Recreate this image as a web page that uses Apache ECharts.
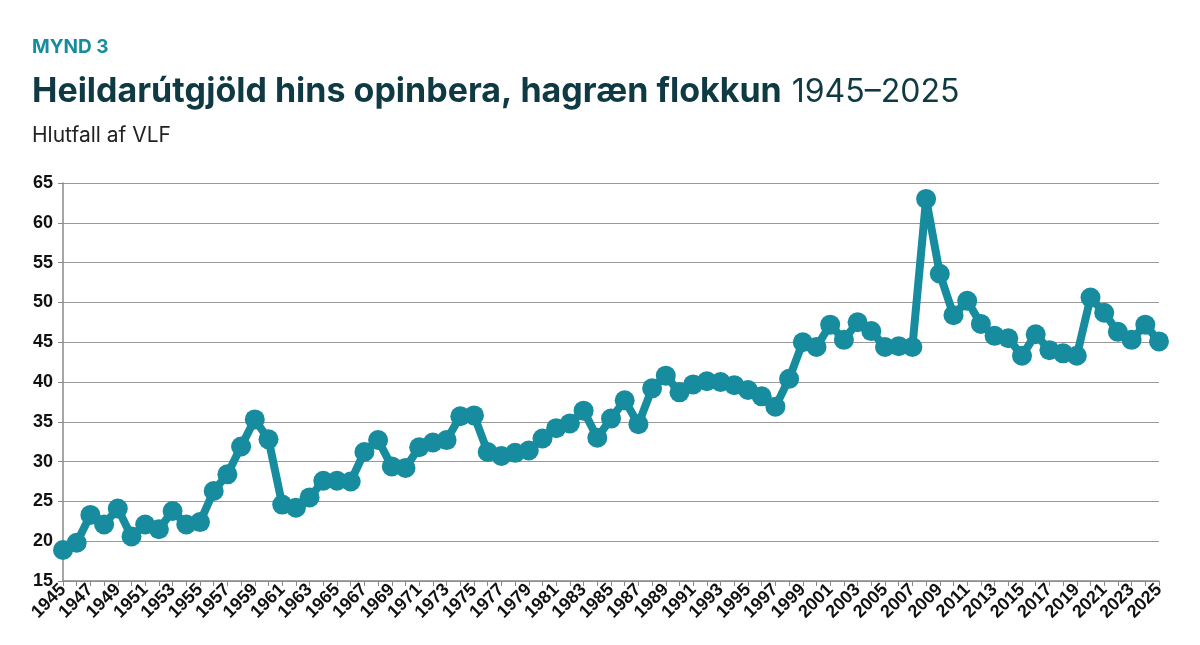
<!DOCTYPE html>
<html>
<head>
<meta charset="utf-8">
<script src="https://cdn.jsdelivr.net/npm/echarts@6/dist/echarts.min.js"></script>
<style>
  html, body { margin: 0; padding: 0; background: #fff; }
  #chart { width: 1200px; height: 645px; }
</style>
</head>
<body>
<div id="chart"></div>
<script>
const years = [];
for (let y = 1945; y <= 2025; y++) years.push(String(y));

const spending = [
  18.9, 19.8, 23.3, 22.1, 24.1, 20.6, 22.1, 21.5, 23.8, 22.1,
  22.4, 26.3, 28.4, 31.9, 35.3, 32.8, 24.6, 24.2, 25.5, 27.6,
  27.6, 27.5, 31.2, 32.7, 29.4, 29.2, 31.8, 32.4, 32.7, 35.7,
  35.8, 31.2, 30.7, 31.1, 31.4, 32.9, 34.2, 34.8, 36.4, 33.0,
  35.4, 37.7, 34.7, 39.2, 40.8, 38.7, 39.7, 40.1, 40.0, 39.6,
  39.0, 38.2, 36.9, 40.4, 45.0, 44.4, 47.2, 45.3, 47.5, 46.4,
  44.4, 44.5, 44.4, 63.0, 53.6, 48.4, 50.2, 47.3, 45.8, 45.5,
  43.3, 46.0, 44.0, 43.6, 43.3, 50.6, 48.7, 46.3, 45.3, 47.2,
  45.1
];

const teal = "#168c9e";
const chart = echarts.init(document.getElementById("chart"));
chart.setOption({
  animation: false,
  title: [
    {
      text: "MYND 3",
      left: 27,
      top: 33,
      textStyle: { color: teal, fontFamily: "Inter", fontWeight: "bold", fontSize: 19 },
    },
    {
      text: "{b|Heildarútgjöld hins opinbera, hagræn flokkun}  {n|1945–2025}",
      left: 27,
      top: 70,
      textStyle: {
        rich: {
          b: { color: "#0f3a44", fontFamily: "Inter", fontWeight: "bold", fontSize: 34 },
          n: { color: "#0f3a44", fontFamily: "Inter", fontWeight: "normal", fontSize: 32 },
        },
      },
    },
    {
      text: "Hlutfall af VLF",
      left: 27,
      top: 120,
      textStyle: { color: "#222", fontFamily: "Inter", fontWeight: "normal", fontSize: 21 },
    },
  ],
  grid: { left: 63, right: 41, top: 183, bottom: 64 },
  xAxis: {
    type: "category",
    data: years,
    boundaryGap: false,
    axisLine: { lineStyle: { color: "#888", width: 1.5 } },
    axisTick: { show: true, interval: 0, length: 5, lineStyle: { color: "#888" } },
    axisLabel: {
      interval: 1,
      rotate: 45,
      margin: 6,
      color: "#111",
      fontFamily: "Liberation Sans",
      fontWeight: "bold",
      fontSize: 18,
    },
  },
  yAxis: {
    type: "value",
    min: 15,
    max: 65,
    interval: 5,
    axisLine: { show: true, lineStyle: { color: "#888", width: 1.5 } },
    axisTick: { show: true, length: 5, lineStyle: { color: "#888" } },
    splitLine: { lineStyle: { color: "#999", width: 1.2 } },
    axisLabel: {
      color: "#111",
      fontFamily: "Liberation Sans",
      fontWeight: "bold",
      fontSize: 18,
      margin: 10,
    },
  },
  series: [
    {
      type: "line",
      data: spending,
      symbol: "circle",
      symbolSize: 20,
      showAllSymbol: true,
      lineStyle: { color: teal, width: 8 },
      itemStyle: { color: teal },
    },
  ],
});
</script>
</body>
</html>
